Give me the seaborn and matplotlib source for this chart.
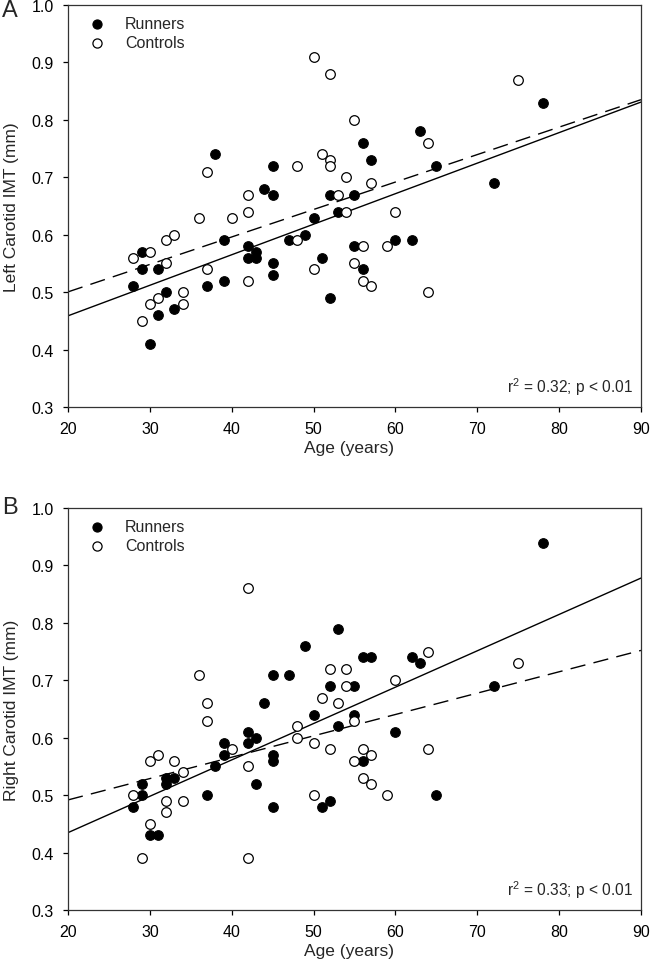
"""Carotid IMT vs age, runners vs controls (two panels)."""

import matplotlib
matplotlib.use("Agg")
import matplotlib.pyplot as plt
import pandas as pd
import seaborn as sns

# --- panel A: left carotid IMT ---
left_runners_age = [28, 29, 29, 30, 31, 31, 32, 33, 37, 38, 39, 39, 42, 42, 43, 43, 44, 45, 45,
                    45, 45, 47, 49, 50, 51, 52, 52, 53, 55, 55, 56, 56, 57, 60, 62, 63, 65, 72, 78]
left_runners_imt = [0.51, 0.57, 0.54, 0.41, 0.54, 0.46, 0.50, 0.47, 0.51, 0.74, 0.59, 0.52, 0.58,
                    0.56, 0.57, 0.56, 0.68, 0.72, 0.67, 0.55, 0.53, 0.59, 0.60, 0.63, 0.56, 0.67,
                    0.49, 0.64, 0.67, 0.58, 0.76, 0.54, 0.73, 0.59, 0.59, 0.78, 0.72, 0.69, 0.83]
left_controls_age = [28, 29, 30, 30, 31, 32, 32, 33, 34, 34, 36, 37, 37, 40, 42, 42, 42, 48, 48,
                     50, 50, 51, 52, 52, 52, 53, 54, 54, 55, 55, 56, 56, 57, 57, 59, 60, 64, 64, 75]
left_controls_imt = [0.56, 0.45, 0.57, 0.48, 0.49, 0.59, 0.55, 0.60, 0.50, 0.48, 0.63, 0.71, 0.54,
                     0.63, 0.67, 0.64, 0.52, 0.72, 0.59, 0.91, 0.54, 0.74, 0.88, 0.73, 0.72, 0.67,
                     0.70, 0.64, 0.80, 0.55, 0.58, 0.52, 0.69, 0.51, 0.58, 0.64, 0.76, 0.50, 0.87]

# --- panel B: right carotid IMT ---
right_runners_age = [28, 29, 29, 30, 31, 32, 32, 33, 37, 38, 39, 39, 42, 42, 43, 43, 44, 45, 45, 45,
                     45, 47, 49, 50, 51, 52, 52, 53, 53, 55, 55, 56, 56, 57, 60, 62, 63, 65, 72, 78]
right_runners_imt = [0.48, 0.52, 0.50, 0.43, 0.43, 0.53, 0.52, 0.53, 0.50, 0.55, 0.59, 0.57, 0.61,
                     0.59, 0.60, 0.52, 0.66, 0.71, 0.57, 0.56, 0.48, 0.71, 0.76, 0.64, 0.48, 0.69,
                     0.49, 0.79, 0.62, 0.69, 0.64, 0.74, 0.56, 0.74, 0.61, 0.74, 0.73, 0.50, 0.69, 0.94]
right_controls_age = [28, 29, 30, 30, 31, 32, 32, 33, 34, 34, 36, 37, 37, 40, 42, 42, 42, 48, 48,
                      50, 50, 51, 52, 52, 53, 54, 54, 55, 55, 56, 56, 57, 57, 59, 60, 64, 64, 75]
right_controls_imt = [0.50, 0.39, 0.56, 0.45, 0.57, 0.49, 0.47, 0.56, 0.54, 0.49, 0.71, 0.66, 0.63,
                      0.58, 0.86, 0.55, 0.39, 0.62, 0.60, 0.59, 0.50, 0.67, 0.72, 0.58, 0.66, 0.72,
                      0.69, 0.63, 0.56, 0.58, 0.53, 0.57, 0.52, 0.50, 0.70, 0.75, 0.58, 0.73]

panels = [
    ("A", "Left Carotid IMT (mm)", "r$^2$ = 0.32; p < 0.01",
     left_runners_age, left_runners_imt, left_controls_age, left_controls_imt),
    ("B", "Right Carotid IMT (mm)", "r$^2$ = 0.33; p < 0.01",
     right_runners_age, right_runners_imt, right_controls_age, right_controls_imt),
]

sns.set_theme(style="ticks")
plt.rcParams["font.family"] = ["Liberation Sans", "DejaVu Sans"]
plt.rcParams["mathtext.fontset"] = "custom"
plt.rcParams["mathtext.rm"] = "Liberation Sans"

fig = plt.figure(figsize=(6.5, 9.78), dpi=100)
boxes = [[0.1046, 0.5828, 0.8815, 0.4110], [0.1046, 0.0685, 0.8815, 0.4110]]

for box, (tag, ylabel, stat, r_age, r_imt, c_age, c_imt) in zip(boxes, panels):
    ax = fig.add_axes(box)
    df = pd.concat([
        pd.DataFrame({"age": r_age, "imt": r_imt, "group": "Runners"}),
        pd.DataFrame({"age": c_age, "imt": c_imt, "group": "Controls"}),
    ])
    ax.set_xlim(20, 90)
    ax.set_ylim(0.3, 1.0)
    # fits over the full x range (truncate=False uses current xlim)
    sns.regplot(data=df[df["group"] == "Runners"], x="age", y="imt", ax=ax, scatter=False,
                ci=None, truncate=False, color="black", line_kws={"lw": 1.0, "zorder": 1})
    sns.regplot(data=df[df["group"] == "Controls"], x="age", y="imt", ax=ax, scatter=False,
                ci=None, truncate=False, color="black",
                line_kws={"lw": 1.0, "ls": (0, (11, 6)), "zorder": 1})
    sns.scatterplot(data=df[df["group"] == "Runners"], x="age", y="imt", ax=ax, s=48,
                    color="black", edgecolor="black", linewidth=0.8, label="Runners", zorder=3)
    sns.scatterplot(data=df[df["group"] == "Controls"], x="age", y="imt", ax=ax, s=48,
                    color="white", edgecolor="black", linewidth=0.9, label="Controls", zorder=3)
    ax.set_xlim(20, 90)
    ax.set_ylim(0.3, 1.0)
    ax.set_xticks(range(20, 91, 10))
    ax.set_yticks([0.3, 0.4, 0.5, 0.6, 0.7, 0.8, 0.9, 1.0])
    ax.set_yticklabels([f"{v:.1f}" for v in ax.get_yticks()])
    ax.tick_params(labelsize=11.5, length=3.6, width=0.9, direction="out", colors="black", pad=6.5)
    for sp in ax.spines.values():
        sp.set_linewidth(0.9)
        sp.set_color("#333333")
    ax.set_xlabel("Age (years)", fontsize=12.5)
    ax.set_ylabel(ylabel, fontsize=12.5)
    ax.xaxis.set_label_coords(0.49, -0.083)
    ax.yaxis.set_label_coords(-0.085, 0.5)
    ax.legend(loc="upper left", bbox_to_anchor=(0.0255, 0.985), frameon=False, fontsize=11.5,
              handletextpad=1.15, borderaxespad=0.0, borderpad=0.3, labelspacing=0.25,
              markerscale=0.95, handlelength=1.2)
    ax.text(0.985, 0.025, stat, transform=ax.transAxes, ha="right", va="bottom", fontsize=11.2)
    fig.text(0.003, box[1] + box[3] + 0.012 - (0.006 if tag == "A" else 0), tag,
             fontsize=17, va="top", ha="left")

fig.savefig("out.png", dpi=100)
plt.close(fig)
